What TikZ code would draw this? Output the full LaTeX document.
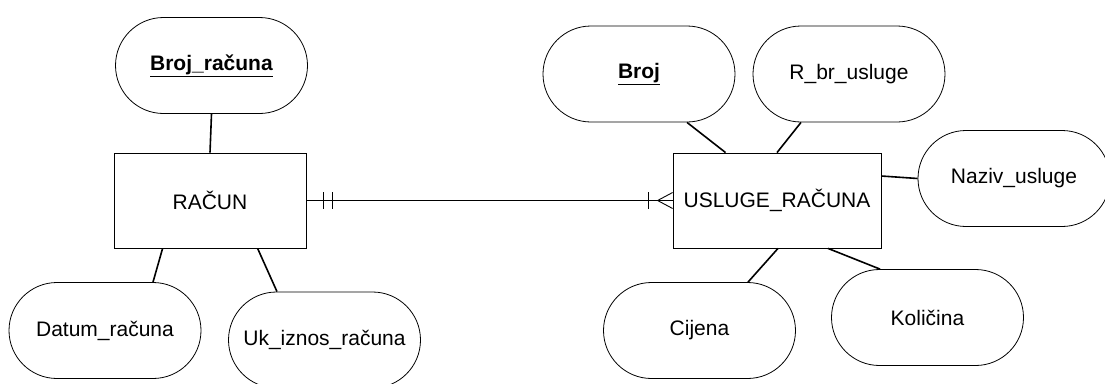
\documentclass[tikz,border=0pt]{standalone}
\usepackage{fontspec}
\setmainfont{Liberation Sans}
\usetikzlibrary{calc}
\begin{document}
\begin{tikzpicture}[x=1bp,y=-1bp,
  every node/.style={font=\fontsize{21bp}{24bp}\selectfont},
  attr/.style={draw, line width=0.8bp, rounded corners=48bp, minimum width=192bp, minimum height=96bp, inner sep=0pt},
  ent/.style={draw, line width=0.8bp, minimum height=95bp, inner sep=0pt},
  link/.style={line width=1.6bp},
  rel/.style={line width=0.9bp}]
\clip (0,0) rectangle (1105,383);
\useasboundingbox (0,0) rectangle (1105,383);
% entities
\node[ent, minimum width=192bp] (racun) at (210,200.5) {RAČUN};
\node[ent, minimum width=208bp] (usl) at (777,200.5) {USLUGE\_RAČUNA};
% attributes
\node[attr] (broj_r) at (211.5,65.5) {\underline{\textbf{Broj\_računa}}};
\node[attr] (datum) at (105,330.5) {Datum\_računa};
\node[attr] (ukiz) at (324.5,340) {Uk\_iznos\_računa};
\node[attr] (broj) at (639,74) {\underline{\textbf{Broj}}};
\node[attr] (rbr) at (849,74) {R\_br\_usluge};
\node[attr] (naziv) at (1014,178.5) {Naziv\_usluge};
\node[attr] (cijena) at (699.5,330.5) {Cijena};
\node[attr] (kol) at (927.5,317.5) {Količina};
% attribute links
\draw[link] (broj_r.south) -- (racun.north);
\draw[link] ($(racun.south west)+(49,0)$) -- ($(datum.north)+(48,0)$);
\draw[link] ($(racun.south west)+(144,0)$) -- ($(ukiz.north)+(-47.5,0)$);
\draw[link] ($(broj.south)+(48,0)$) -- ($(usl.north west)+(53,0)$);
\draw[link] ($(rbr.south)+(-48,0)$) -- (usl.north);
\draw[link] ($(usl.east)+(0,-24.5)$) -- (naziv.west);
\draw[link] ($(usl.south)+(1,0)$) -- ($(cijena.north)+(48.5,0)$);
\draw[link] ($(usl.south)+(51,0)$) -- ($(kol.north)+(-47.5,0)$);
% relationship
\draw[rel] (racun.east) -- (usl.west);
\draw[rel] ($(racun.east)+(17,-8.5)$) -- ($(racun.east)+(17,8.5)$);
\draw[rel] ($(racun.east)+(26,-8.5)$) -- ($(racun.east)+(26,8.5)$);
\draw[rel] ($(usl.west)+(-24,-8.5)$) -- ($(usl.west)+(-24,8.5)$);
\coordinate (apex) at ($(usl.west)+(-15,0)$);
\draw[rel] ($(usl.west)+(0,-8)$) -- (apex) -- ($(usl.west)+(0,8)$);
\end{tikzpicture}
\end{document}
